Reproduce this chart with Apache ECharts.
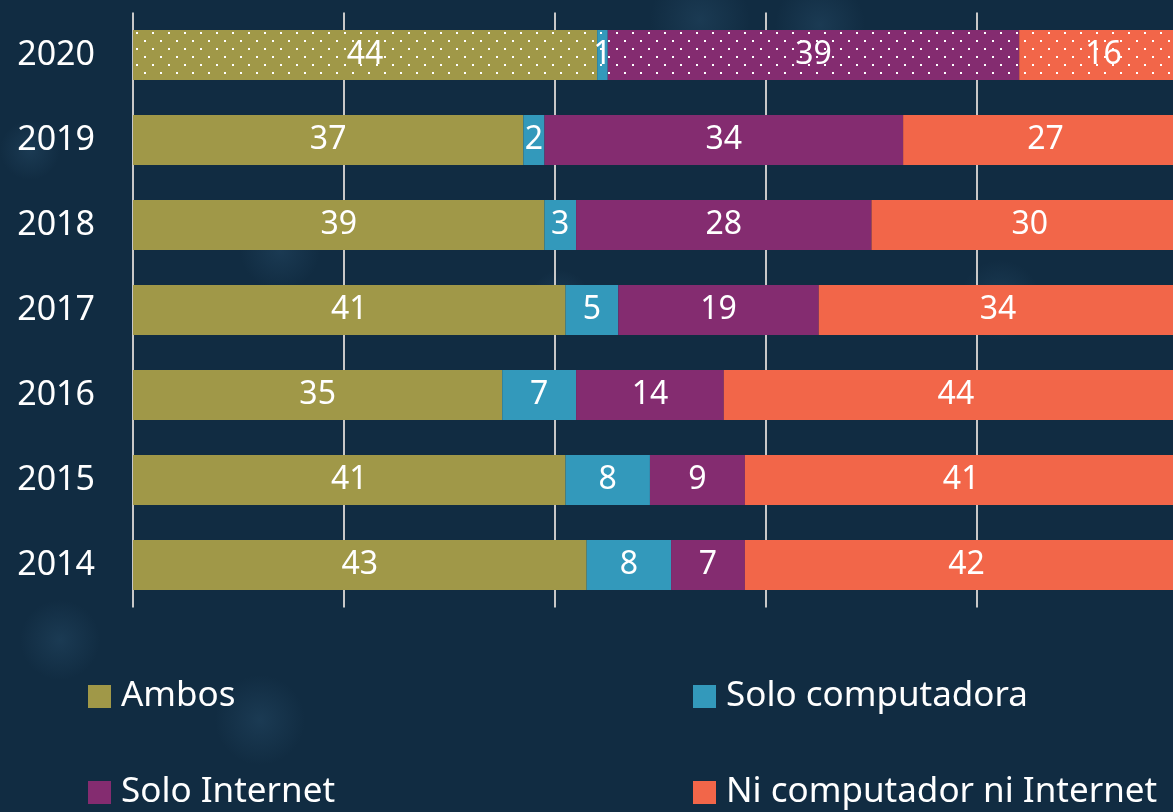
<!DOCTYPE html>
<html>
<head>
<meta charset="utf-8">
<script src="https://cdn.jsdelivr.net/npm/echarts@6/dist/echarts.min.js"></script>
<style>
  html, body { margin: 0; padding: 0; background: #112c42; overflow: hidden; }
  /* the plot runs past the right edge of the window, as in the original */
  #chart { width: 1189px; height: 812px; }
</style>
</head>
<body>
<div id="chart"></div>
<script>
const years = ['2014', '2015', '2016', '2017', '2018', '2019', '2020'];

const ambos = [43, 41, 35, 41, 39, 37, 44];
const soloComputadora = [8, 8, 7, 5, 3, 2, 1];
const soloInternet = [7, 9, 14, 19, 28, 34, 39];
const ninguno = [42, 41, 44, 34, 30, 27, 16];

const seriesNames = ['Ambos', 'Solo computadora', 'Solo Internet', 'Ni computador ni Internet'];
const colors = ['#a09848', '#3399bb', '#842c70', '#f26649'];

const font = '"Noto Sans", "Open Sans", sans-serif';

// dotted pattern used for the 2020 row
const dots = {
  symbol: 'rect',
  symbolSize: 1,
  color: '#ffffff',
  dashArrayX: [[2, 14], [0, 8, 2, 6]],
  dashArrayY: [2, 6],
  rotation: 0
};

const makeData = values => values.map((v, i) =>
  years[i] === '2020' ? { value: v, itemStyle: { decal: dots } } : v
);

// soft background blobs
const blob = (cx, cy, r) => ({
  type: 'circle',
  shape: { cx, cy, r },
  silent: true,
  z: -10,
  style: {
    fill: new echarts.graphic.RadialGradient(0.5, 0.5, 0.5, [
      { offset: 0, color: 'rgba(45,85,115,0.35)' },
      { offset: 1, color: 'rgba(45,85,115,0)' }
    ])
  }
});

const chart = echarts.init(document.getElementById('chart'));

const legendPos = [
  { left: 88, top: 679 },
  { left: 693, top: 679 },
  { left: 88, top: 775 },
  { left: 693, top: 775 }
];

const option = {
  backgroundColor: '#112c42',
  color: colors,
  textStyle: { fontFamily: font },
  graphic: [
    blob(280, 250, 40),
    blob(560, 300, 30),
    blob(820, 25, 45),
    blob(30, 150, 30),
    blob(60, 640, 40),
    blob(260, 720, 45),
    blob(700, 20, 50),
    blob(1000, 300, 40)
  ],
  grid: {
    left: 133,
    right: 1,
    top: 12.5,
    bottom: 204.5
  },
  legend: seriesNames.map((name, i) => ({
    data: [name],
    left: legendPos[i].left,
    top: legendPos[i].top,
    padding: 0,
    icon: 'rect',
    itemWidth: 23,
    itemHeight: 23,
    selectedMode: false,
    textStyle: {
      color: '#ffffff',
      fontSize: 35,
      fontFamily: font,
      padding: [0, 0, 0, 5]
    }
  })),
  xAxis: {
    type: 'value',
    min: 0,
    max: 100,
    interval: 20,
    axisLine: { show: false },
    axisTick: { show: false },
    axisLabel: { show: false },
    splitLine: {
      lineStyle: { color: '#c8c8c8', width: 2 }
    }
  },
  yAxis: {
    type: 'category',
    data: years,
    axisLine: { show: false },
    axisTick: { show: false },
    axisLabel: {
      color: '#ffffff',
      fontSize: 34,
      margin: 38,
      fontFamily: font
    }
  },
  series: [ambos, soloComputadora, soloInternet, ninguno].map((values, i) => ({
    name: seriesNames[i],
    type: 'bar',
    stack: 'total',
    barWidth: 50,
    data: makeData(values),
    label: {
      show: true,
      position: 'inside',
      color: '#ffffff',
      fontSize: 32,
      fontFamily: font
    }
  }))
};

chart.setOption(option);
</script>
</body>
</html>
